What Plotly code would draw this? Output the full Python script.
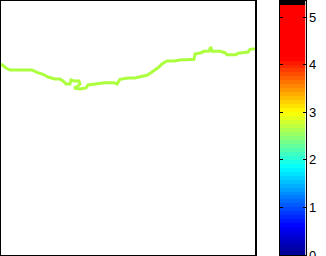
import plotly.graph_objects as go
import numpy as np

# Trace (x across, y upward)
track_x = [1, 3, 6, 10, 32, 37, 43, 48, 55, 60, 63, 66, 70, 71, 74, 79, 80, 77, 74, 80, 86, 88,
           98, 105, 110, 114, 117, 120, 128, 135, 140, 147, 152, 155, 157, 159, 162, 167, 174,
           180, 194, 195, 201, 204, 209, 210.7, 212, 220, 225, 227, 236, 238, 248, 250, 255]
track_yp = [64, 65.5, 68, 70, 70, 72.3, 74.3, 77, 79, 79, 81, 84, 84, 80, 81, 81, 84, 87, 88, 89, 88, 85,
            83.3, 82.7, 82.7, 82.7, 84, 79.3, 78, 78, 76.7, 75.3, 72, 70, 68, 67, 64, 61, 61,
            60, 59.3, 54, 52.7, 51.3, 51, 47, 51.3, 51.3, 52.7, 54.7, 54.7, 53.3, 52, 49.3, 48.7]
track_y = [256 - v for v in track_yp]

# Colour bar
cb_min, cb_max = 0.0, 5.34
cb_levels = 64
cb_ticks = [0, 1, 2, 3, 4, 5]
cb_labels = ["0", "1", "2", "3", "4", "5"]
cscale = [
    [0.0, "rgb(0,0,140)"],
    [0.6 / 5.34, "rgb(0,0,255)"],
    [1.85 / 5.34, "rgb(0,255,255)"],
    [3.0 / 5.34, "rgb(255,255,0)"],
    [4.15 / 5.34, "rgb(255,0,0)"],
    [0.984, "rgb(255,0,0)"],
    [0.985, "rgb(0,0,0)"],
    [1.0, "rgb(0,0,0)"],
]

W, H = 326, 256
edges = np.linspace(cb_min, cb_max, cb_levels + 1)
centers = (edges[:-1] + edges[1:]) / 2
font = dict(family="Liberation Sans", size=13, color="black")

fig = go.Figure()
fig.add_trace(go.Scatter(x=track_x, y=track_y, mode="lines",
                         line=dict(color="rgb(172,255,62)", width=3),
                         xaxis="x", yaxis="y", showlegend=False, hoverinfo="skip"))
fig.add_trace(go.Heatmap(z=[[c] for c in centers], x=[0], y=edges, colorscale=cscale,
                         zmin=cb_min, zmax=cb_max, showscale=False,
                         xaxis="x2", yaxis="y2", hoverinfo="skip"))

# the bottom label sits on the window edge and is cut, as in the reference
fig.add_annotation(x=0.5, y=cb_ticks[0], xref="x2", yref="y2", text=cb_labels[0],
                   showarrow=False, xanchor="left", yanchor="middle", xshift=1,
                   font=font)

fig.update_layout(
    width=W, height=H, margin=dict(l=0, r=0, t=0, b=0),
    paper_bgcolor="white", plot_bgcolor="white",
    xaxis=dict(domain=[1 / W, 255 / W], range=[1, 255], showgrid=False, zeroline=False,
               showticklabels=False, ticks="", showline=True, mirror=True,
               linecolor="black", linewidth=2),
    yaxis=dict(domain=[1 / H, 255 / H], range=[1, 255], showgrid=False, zeroline=False,
               showticklabels=False, ticks="", showline=True, mirror=True,
               linecolor="black", linewidth=2),
    xaxis2=dict(domain=[279.5 / W, 305.5 / W], range=[-0.5, 0.5], showgrid=False,
                zeroline=False, showticklabels=False, ticks="", showline=True, mirror=True,
                linecolor="black", linewidth=1, anchor="y2"),
    yaxis2=dict(domain=[1 / H, 255 / H], range=[cb_min, cb_max], anchor="x2", side="right",
                tickvals=cb_ticks, ticktext=[""] + cb_labels[1:], ticks="inside",
                ticklen=3, tickcolor="black", tickwidth=1, mirror="ticks", showline=True,
                linecolor="black", linewidth=1, showgrid=False, zeroline=False,
                tickfont=font),
)

fig.write_html("out.html")
